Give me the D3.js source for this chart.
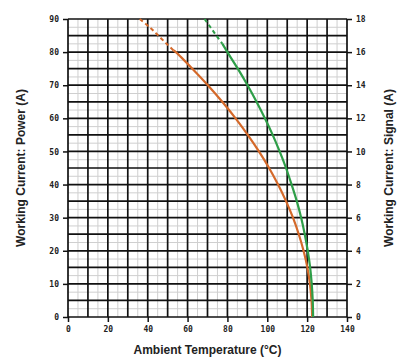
<!DOCTYPE html>
<html><head><meta charset="utf-8">
<script src="https://cdn.jsdelivr.net/npm/d3@7"></script>
<style>body{margin:0;background:#fff}svg{display:block}</style>
</head><body>
<script>
const xTicks = [0,20,40,60,80,100,120,140];
const yLeftTicks = [0,10,20,30,40,50,60,70,80,90];
const yRightTicks = [0,2,4,6,8,10,12,14,16,18];
// Power (left axis, A) vs Ambient Temperature (°C)
const powerDashedT = [36,41,45.3,49.5,53];
const powerDashedA = [90,87.5,85,82.5,80.5];
const powerT = [53,54.1,62.4,70.2,77.4,84.1,90.2,95.8,100.9,105.4,109.4,112.9,115.8,118.2,120.1,121.4,122.2,122.5];
const powerA = [80.5,80,75,70,65,60,55,50,45,40,35,30,25,20,15,10,5,0];
// Signal (right axis, A)
const signalDashedT = [68.5,71.5,74.4,77.5];
const signalDashedA = [18,17.5,17,16.5];
const signalT = [77.5,80,85.2,90.1,94.6,98.8,102.7,106.2,109.4,112.2,114.8,117,118.8,120.3,121.5,122.3,122.8,123];
const signalA = [16.5,16,15,14,13,12,11,10,9,8,7,6,5,4,3,2,1,0];

const W=397,H=358, L=68,R=347,T=19,B=317;
const svg=d3.select("body").append("svg").attr("width",W).attr("height",H);
const x=d3.scaleLinear().domain([0,140]).range([L,R]);
const yL=d3.scaleLinear().domain([0,90]).range([B,T]);
const yR=d3.scaleLinear().domain([0,18]).range([B,T]);

// minor grid
const g=svg.append("g");
g.selectAll(".mv").data(d3.range(5,140,10)).join("line")
 .attr("x1",d=>x(d)).attr("x2",d=>x(d)).attr("y1",T).attr("y2",B)
 .attr("stroke","#cfcfcf").attr("stroke-width",1);
g.selectAll(".mh").data(d3.range(2.5,90,5)).join("line")
 .attr("y1",d=>yL(d)).attr("y2",d=>yL(d)).attr("x1",L).attr("x2",R)
 .attr("stroke","#cfcfcf").attr("stroke-width",1);
// major grid
g.selectAll(".Mv").data(d3.range(0,141,10)).join("line")
 .attr("x1",d=>x(d)).attr("x2",d=>x(d)).attr("y1",T).attr("y2",B)
 .attr("stroke","#111").attr("stroke-width",1.7);
g.selectAll(".Mh").data(d3.range(0,91,5)).join("line")
 .attr("y1",d=>yL(d)).attr("y2",d=>yL(d)).attr("x1",L).attr("x2",R)
 .attr("stroke","#111").attr("stroke-width",1.7);

const tickFont='"DejaVu Sans Mono", monospace';
function styleAxis(sel){
  sel.select(".domain").remove();
  sel.selectAll(".tick line").attr("stroke","#111").attr("stroke-width",1.5);
  sel.selectAll(".tick text").attr("font-family",tickFont).attr("font-weight","bold")
    .attr("font-size",8).attr("fill","#222");
}
svg.append("g").attr("transform",`translate(0,${B})`)
 .call(d3.axisBottom(x).tickValues(xTicks).tickSize(5).tickPadding(4)).call(styleAxis);
svg.append("g").attr("transform",`translate(${L},0)`)
 .call(d3.axisLeft(yL).tickValues(yLeftTicks).tickSize(5).tickPadding(4)).call(styleAxis);
svg.append("g").attr("transform",`translate(${R},0)`)
 .call(d3.axisRight(yR).tickValues(yRightTicks).tickSize(5).tickPadding(4)).call(styleAxis);

const lineP=d3.line().x(d=>x(d[0])).y(d=>yL(d[1])).curve(d3.curveCatmullRom);
const lineS=d3.line().x(d=>x(d[0])).y(d=>yR(d[1])).curve(d3.curveCatmullRom);
const orange="#d4692a", green="#2e9e48";
svg.append("path").datum(powerDashedT.map((t,i)=>[t,powerDashedA[i]]))
 .attr("d",lineP).attr("fill","none").attr("stroke",orange).attr("stroke-width",2).attr("stroke-dasharray","4,3");
svg.append("path").datum(powerT.map((t,i)=>[t,powerA[i]]))
 .attr("d",lineP).attr("fill","none").attr("stroke",orange).attr("stroke-width",2.2);
svg.append("path").datum(signalDashedT.map((t,i)=>[t,signalDashedA[i]]))
 .attr("d",lineS).attr("fill","none").attr("stroke",green).attr("stroke-width",2).attr("stroke-dasharray","4,3");
svg.append("path").datum(signalT.map((t,i)=>[t,signalA[i]]))
 .attr("d",lineS).attr("fill","none").attr("stroke",green).attr("stroke-width",2.2);

const titleFont='"Liberation Sans", Arial, sans-serif';
svg.append("text").attr("x",(L+R)/2).attr("y",354).attr("text-anchor","middle")
 .attr("font-family",titleFont).attr("font-weight","bold").attr("font-size",12).attr("fill","#222")
 .text("Ambient Temperature (°C)");
svg.append("text").attr("transform",`translate(25,${(T+B)/2}) rotate(-90)`).attr("text-anchor","middle")
 .attr("font-family",titleFont).attr("font-weight","bold").attr("font-size",12).attr("fill","#222")
 .text("Working Current: Power (A)");
svg.append("text").attr("transform",`translate(393,${(T+B)/2}) rotate(-90)`).attr("text-anchor","middle")
 .attr("font-family",titleFont).attr("font-weight","bold").attr("font-size",12).attr("fill","#222")
 .text("Working Current: Signal (A)");
</script>
</body></html>
